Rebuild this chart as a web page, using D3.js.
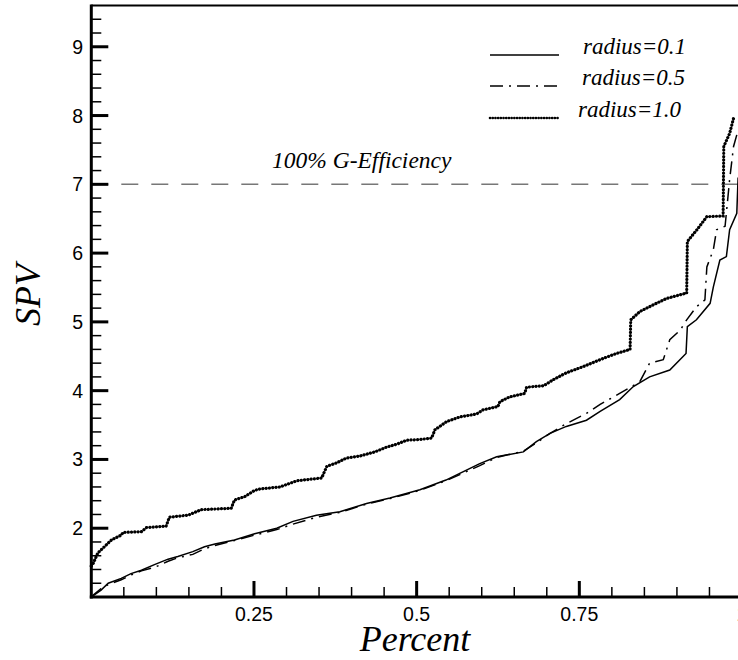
<!DOCTYPE html>
<html>
<head>
<meta charset="utf-8">
<script src="https://cdn.jsdelivr.net/npm/d3@7"></script>
<style>
  body { margin: 0; background: #fff; }
  svg { display: block; }
</style>
</head>
<body>
<div id="chart"></div>
<script>
// percent / SPV pairs
var pct01 = [0.0, 0.003, 0.015, 0.026, 0.046, 0.061, 0.077, 0.097, 0.118, 0.133, 0.156, 0.174, 0.19, 0.22, 0.251, 0.285, 0.31, 0.346, 0.382, 0.423, 0.459, 0.505, 0.545, 0.571, 0.597, 0.623, 0.664, 0.684, 0.705, 0.73, 0.761, 0.782, 0.812, 0.833, 0.858, 0.889, 0.914, 0.916, 0.93, 0.951, 0.956, 0.966, 0.976, 0.981, 0.992, 0.994];
var spv01 = [1.0, 1.02, 1.10, 1.20, 1.27, 1.34, 1.39, 1.47, 1.55, 1.59, 1.66, 1.73, 1.77, 1.83, 1.92, 2.00, 2.10, 2.19, 2.24, 2.36, 2.44, 2.56, 2.70, 2.82, 2.94, 3.04, 3.11, 3.26, 3.38, 3.48, 3.57, 3.70, 3.87, 4.06, 4.20, 4.30, 4.54, 4.93, 5.03, 5.27, 5.51, 5.90, 5.95, 6.34, 6.58, 7.10];

var pct05 = [0.0, 0.003, 0.015, 0.026, 0.046, 0.061, 0.077, 0.097, 0.118, 0.133, 0.156, 0.174, 0.19, 0.22, 0.251, 0.285, 0.31, 0.346, 0.382, 0.423, 0.459, 0.505, 0.545, 0.571, 0.597, 0.623, 0.664, 0.684, 0.705, 0.73, 0.761, 0.782, 0.812, 0.843, 0.858, 0.879, 0.889, 0.905, 0.915, 0.93, 0.943, 0.946, 0.956, 0.961, 0.974, 0.981, 0.987, 0.992];
var spv05 = [1.0, 1.03, 1.12, 1.18, 1.25, 1.32, 1.38, 1.43, 1.52, 1.57, 1.62, 1.70, 1.75, 1.82, 1.90, 1.98, 2.06, 2.16, 2.23, 2.35, 2.43, 2.55, 2.69, 2.80, 2.91, 3.03, 3.12, 3.24, 3.38, 3.52, 3.67, 3.80, 3.96, 4.13, 4.40, 4.45, 4.74, 4.88, 5.03, 5.22, 5.32, 5.80, 6.05, 6.34, 6.39, 7.07, 7.55, 7.72];

var pct10 = [0.0, 0.003, 0.01, 0.02, 0.031, 0.046, 0.049, 0.077, 0.085, 0.115, 0.12, 0.149, 0.169, 0.215, 0.22, 0.236, 0.251, 0.259, 0.29, 0.316, 0.354, 0.362, 0.377, 0.392, 0.413, 0.436, 0.454, 0.469, 0.485, 0.505, 0.523, 0.528, 0.546, 0.567, 0.592, 0.602, 0.625, 0.628, 0.643, 0.666, 0.669, 0.695, 0.71, 0.728, 0.736, 0.756, 0.787, 0.807, 0.828, 0.829, 0.843, 0.864, 0.884, 0.915, 0.916, 0.93, 0.946, 0.971, 0.972, 0.981, 0.987, 0.99];
var spv10 = [1.45, 1.49, 1.64, 1.73, 1.83, 1.90, 1.94, 1.95, 2.01, 2.03, 2.16, 2.19, 2.27, 2.29, 2.41, 2.46, 2.55, 2.57, 2.60, 2.69, 2.73, 2.90, 2.95, 3.02, 3.05, 3.11, 3.18, 3.22, 3.28, 3.29, 3.31, 3.43, 3.55, 3.62, 3.66, 3.72, 3.77, 3.84, 3.91, 3.96, 4.05, 4.07, 4.16, 4.25, 4.28, 4.35, 4.47, 4.54, 4.60, 5.03, 5.15, 5.25, 5.34, 5.42, 6.17, 6.33, 6.53, 6.54, 7.55, 7.74, 7.96, 7.98];

var legendNames = ['radius=0.1', 'radius=0.5', 'radius=1.0'];
var xTickVals = [0.25, 0.5, 0.75, 1];
var xTickLabels = ['0.25', '0.5', '0.75', '1'];
var yTickVals = [2, 3, 4, 5, 6, 7, 8, 9];
var gEfficiency = 7;
var gLabel = '100% G-Efficiency';

var width = 738, height = 660;
// note: "top" is taken by window.top, so plot edges get their own names
var plotL = 91.3, plotR = 742, plotT = 5.5, plotB = 597;

var svg = d3.select('#chart').append('svg')
    .attr('width', width)
    .attr('height', height);

var x = d3.scaleLinear().domain([0, 1]).range([plotL, plotR]);
var y = d3.scaleLinear().domain([1, 9.6]).range([plotB, plotT]);

function zip(a, b) {
    return a.map(function(v, i) { return [v, b[i]]; });
}

var series = [
    {name: legendNames[0], data: zip(pct01, spv01), dash: null, w: 1.5, cap: 'butt'},
    {name: legendNames[1], data: zip(pct05, spv05), dash: '13,6,2,6', w: 1.5, cap: 'butt'},
    {name: legendNames[2], data: zip(pct10, spv10), dash: '0.1,3.2', w: 3.2, cap: 'round'}
];

var line = d3.line()
    .x(function(d) { return x(d[0]); })
    .y(function(d) { return y(d[1]); });

var serif = '"Liberation Serif", "Times New Roman", serif';
var sans = '"Liberation Sans", Arial, sans-serif';

// 100% G-efficiency reference line
svg.append('line')
    .attr('x1', x(0)).attr('x2', width)
    .attr('y1', y(gEfficiency)).attr('y2', y(gEfficiency))
    .attr('stroke', '#777')
    .attr('stroke-width', 1.5)
    .attr('stroke-dasharray', '17,13');

svg.append('text')
    .attr('x', 272)
    .attr('y', 168)
    .attr('font-family', serif)
    .attr('font-style', 'italic')
    .attr('font-size', 23.5)
    .text(gLabel);

// curves
series.forEach(function(s) {
    svg.append('path')
        .attr('d', line(s.data))
        .attr('fill', 'none')
        .attr('stroke', '#000')
        .attr('stroke-width', s.w)
        .attr('stroke-linecap', s.cap)
        .attr('stroke-dasharray', s.dash);
});

// axes frame
var axisG = svg.append('g');

// x minor + major ticks
var xMinor = d3.range(0.05, 1.0, 0.05);
axisG.selectAll('.xminor').data(xMinor).enter().append('line')
    .attr('x1', function(d) { return x(d); }).attr('x2', function(d) { return x(d); })
    .attr('y1', plotB).attr('y2', plotB - 10)
    .attr('stroke', '#000').attr('stroke-width', 1.5);
axisG.selectAll('.xmajor').data(xTickVals).enter().append('line')
    .attr('x1', function(d) { return x(d); }).attr('x2', function(d) { return x(d); })
    .attr('y1', plotB).attr('y2', plotB - 16)
    .attr('stroke', '#000').attr('stroke-width', 3);

var yMinor = d3.range(1.2, 9.5, 0.2);
axisG.selectAll('.yminor').data(yMinor).enter().append('line')
    .attr('x1', plotL).attr('x2', plotL + 10)
    .attr('y1', function(d) { return y(d); }).attr('y2', function(d) { return y(d); })
    .attr('stroke', '#000').attr('stroke-width', 1.5);
axisG.selectAll('.ymajor').data(yTickVals).enter().append('line')
    .attr('x1', plotL).attr('x2', plotL + 17)
    .attr('y1', function(d) { return y(d); }).attr('y2', function(d) { return y(d); })
    .attr('stroke', '#000').attr('stroke-width', 3);

// frame lines
axisG.append('line')
    .attr('x1', plotL).attr('x2', plotL)
    .attr('y1', plotT - 1).attr('y2', plotB + 1.5)
    .attr('stroke', '#000').attr('stroke-width', 3);
axisG.append('line')
    .attr('x1', plotL - 1.5).attr('x2', width)
    .attr('y1', plotB).attr('y2', plotB)
    .attr('stroke', '#000').attr('stroke-width', 3);
axisG.append('line')
    .attr('x1', plotL).attr('x2', width)
    .attr('y1', plotT).attr('y2', plotT)
    .attr('stroke', '#000').attr('stroke-width', 2);

// tick labels
svg.selectAll('.xlab').data(xTickVals).enter().append('text')
    .attr('x', function(d) { return x(d); })
    .attr('y', 621)
    .attr('text-anchor', 'middle')
    .attr('font-family', sans)
    .attr('font-size', 19.5)
    .text(function(d, i) { return xTickLabels[i]; });

svg.selectAll('.ylab').data(yTickVals).enter().append('text')
    .attr('x', 83)
    .attr('y', function(d) { return y(d) + 7; })
    .attr('text-anchor', 'end')
    .attr('font-family', sans)
    .attr('font-size', 19.5)
    .text(function(d) { return d; });

// axis titles
svg.append('text')
    .attr('x', 415)
    .attr('y', 651)
    .attr('text-anchor', 'middle')
    .attr('font-family', serif)
    .attr('font-style', 'italic')
    .attr('font-size', 36)
    .text('Percent');

svg.append('text')
    .attr('transform', 'translate(40,295) rotate(-90)')
    .attr('text-anchor', 'middle')
    .attr('font-family', serif)
    .attr('font-style', 'italic')
    .attr('font-size', 36)
    .text('SPV');

// legend
var legY = [55, 86, 118];
var legTextX = [583, 582, 578];
series.forEach(function(s, i) {
    svg.append('line')
        .attr('x1', 490).attr('x2', 559)
        .attr('y1', legY[i]).attr('y2', legY[i])
        .attr('stroke', '#000')
        .attr('stroke-width', i == 2 ? 2.6 : 1.5)
        .attr('stroke-linecap', s.cap)
        .attr('stroke-dasharray', i == 2 ? '0.1,2.6' : s.dash);
    svg.append('text')
        .attr('x', legTextX[i])
        .attr('y', legY[i] - 1)
        .attr('font-family', serif)
        .attr('font-style', 'italic')
        .attr('font-size', 23)
        .text(s.name);
});
</script>
</body>
</html>
